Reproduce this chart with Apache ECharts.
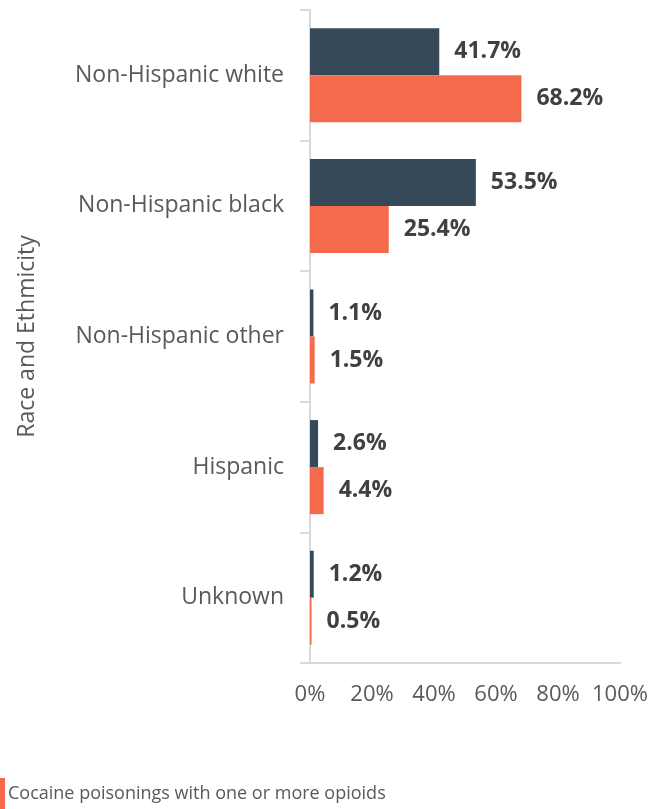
<!DOCTYPE html>
<html>
<head>
<meta charset="utf-8">
<script src="https://cdn.jsdelivr.net/npm/echarts@6/dist/echarts.min.js"></script>
<style>
  html, body { margin: 0; padding: 0; background: #fff; }
  #chart { width: 668px; height: 809px; }
</style>
</head>
<body>
<div id="chart"></div>
<script>
const categories = ['Non-Hispanic white', 'Non-Hispanic black', 'Non-Hispanic other', 'Hispanic', 'Unknown']
const withoutOpioids = [41.7, 53.5, 1.1, 2.6, 1.2]
const withOpioids = [68.2, 25.4, 1.5, 4.4, 0.5]
const xTicks = [0, 20, 40, 60, 80, 100]

const FONT = '"Open Sans", "Noto Sans", sans-serif'
const labelStyle = {
  show: true,
  position: 'right',
  distance: 15,
  fontFamily: FONT,
  fontSize: 23,
  fontWeight: 'bold',
  color: '#404040',
  formatter: (p) => p.value.toFixed(1) + '%',
}

const chart = echarts.init(document.getElementById('chart'), null, { renderer: 'canvas' })

chart.setOption({
  animation: false,
  textStyle: { fontFamily: FONT },
  grid: { left: 310, right: 48, top: 10, bottom: 146 },
  legend: {
    data: ['Cocaine poisonings with one or more opioids'],
    left: 0,
    top: 778,
    padding: 0,
    icon: 'rect',
    itemWidth: 5,
    itemHeight: 32,
    itemGap: 4,
    textStyle: { fontFamily: FONT, fontSize: 18, color: '#595959', padding: [0, 0, 0, -2] },
  },
  xAxis: {
    type: 'value',
    min: xTicks[0],
    max: xTicks[xTicks.length - 1],
    interval: 20,
    axisLine: { show: true, lineStyle: { color: '#d9d9d9', width: 2 } },
    axisTick: { show: false },
    splitLine: { show: false },
    axisLabel: {
      margin: 21,
      fontFamily: FONT,
      fontSize: 22,
      color: '#595959',
      formatter: '{value}%',
    },
  },
  yAxis: {
    type: 'category',
    data: categories,
    inverse: true,
    name: 'Race and Ethmicity',
    nameLocation: 'middle',
    nameGap: 271,
    nameRotate: 90,
    nameTextStyle: { fontFamily: FONT, fontSize: 23, color: '#595959' },
    axisLine: { show: true, lineStyle: { color: '#d9d9d9', width: 2 } },
    axisTick: { show: true, length: 10, lineStyle: { color: '#d9d9d9', width: 2 } },
    axisLabel: {
      margin: 26,
      fontFamily: FONT,
      fontSize: 23,
      color: '#595959',
    },
  },
  series: [
    {
      name: 'Cocaine poisonings without opioids',
      type: 'bar',
      data: withoutOpioids,
      itemStyle: { color: '#364958' },
      barGap: '0%',
      barCategoryGap: '28%',
      label: labelStyle,
    },
    {
      name: 'Cocaine poisonings with one or more opioids',
      type: 'bar',
      data: withOpioids,
      itemStyle: { color: '#F46A4D' },
      barGap: '0%',
      barCategoryGap: '28%',
      label: labelStyle,
    },
  ],
})

window.addEventListener('resize', () => chart.resize())
</script>
</body>
</html>
